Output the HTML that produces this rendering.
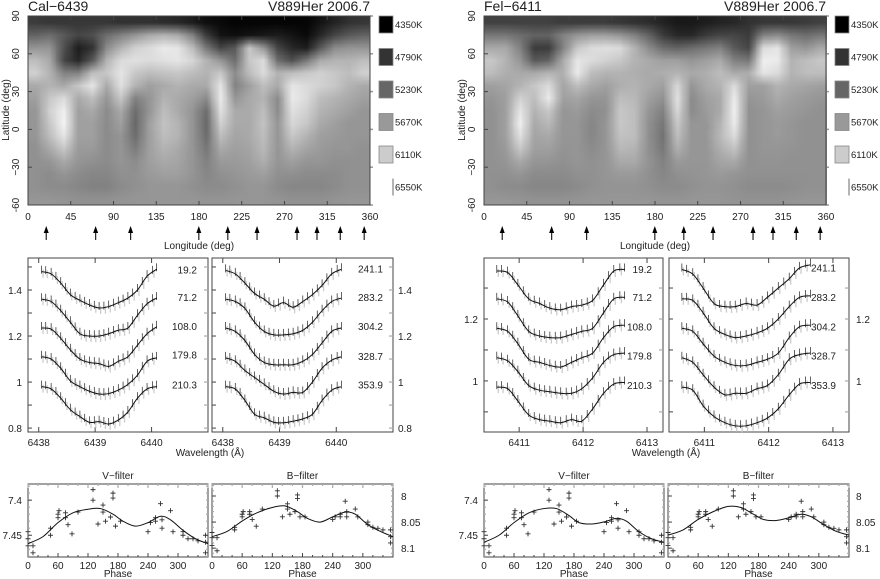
<!DOCTYPE html>
<html><head><meta charset="utf-8"><style>
html,body{margin:0;padding:0;background:#fff;width:880px;height:579px;overflow:hidden;position:relative}
canvas{position:absolute}
svg{position:absolute;left:0;top:0}
text{font-family:"Liberation Sans",sans-serif;fill:#222}
</style></head><body>
<canvas id="mapCa" width="342" height="189" style="left:28px;top:16px"></canvas>
<canvas id="mapFe" width="343" height="189" style="left:484px;top:16px"></canvas>
<svg id="fig" width="880" height="579"></svg>
<script>
const caMap=[
[60,55,55,55,55,55,50,50,50,45,40,30,15,10,5,5,5,5,5,5,20,35,50,55],
[100,110,90,70,80,110,130,150,170,180,170,130,60,20,15,20,25,30,20,10,40,70,90,100],
[150,150,80,30,50,140,180,210,220,235,230,190,120,70,90,200,150,70,40,30,90,140,150,150],
[190,170,70,40,90,180,220,225,220,225,230,215,180,150,110,200,220,110,80,120,170,180,180,190],
[210,180,130,130,190,200,230,200,190,195,200,190,180,200,140,190,220,180,190,200,210,200,190,210],
[170,180,170,200,230,170,225,180,160,170,180,170,170,230,130,160,190,170,230,220,210,200,180,170],
[160,200,220,170,190,150,200,130,150,180,170,160,140,235,150,170,180,140,235,220,190,180,170,160],
[150,210,240,160,170,140,170,110,150,190,170,150,110,225,170,170,190,140,225,210,180,170,160,150],
[150,200,245,160,160,140,160,105,160,195,180,150,105,210,170,170,195,150,215,200,170,160,150,150],
[150,190,230,160,160,140,150,110,160,190,180,150,110,190,165,170,190,150,200,180,160,155,150,150],
[145,170,200,155,155,140,150,125,160,180,170,150,120,170,160,165,185,150,180,165,155,150,150,145],
[145,150,170,150,145,140,150,140,160,170,165,150,130,155,155,160,175,150,160,150,150,145,145,145],
[145,140,150,140,135,135,145,145,155,160,160,150,135,145,150,155,160,145,145,140,140,140,145,145],
[145,140,140,135,130,130,140,145,150,150,150,145,140,140,145,150,150,140,135,135,135,140,145,145],
[150,150,148,145,145,145,148,150,150,150,150,150,148,148,150,150,150,148,145,145,145,148,150,150]];
const feMap=[
[65,65,65,65,65,60,60,60,60,55,50,45,35,25,25,30,35,40,50,55,55,55,60,65],
[120,120,110,100,100,130,150,160,160,150,130,100,60,40,40,60,70,70,60,130,140,120,110,120],
[170,170,130,60,60,130,200,220,225,220,180,140,110,100,110,120,130,90,70,220,230,160,150,170],
[200,180,150,90,100,170,230,220,210,200,180,170,160,160,150,160,170,130,120,240,235,180,190,200],
[190,175,170,170,180,175,235,190,180,180,175,170,175,180,170,175,190,170,175,230,220,180,190,190],
[160,165,180,200,220,165,190,170,160,175,180,170,160,215,150,170,180,220,160,160,180,170,165,160],
[150,160,210,190,235,160,165,150,150,190,185,160,145,225,140,160,170,235,150,155,170,160,155,150],
[145,160,230,180,200,150,155,140,145,200,190,150,130,215,140,155,170,240,145,150,160,155,150,145],
[145,160,240,170,185,150,150,135,150,200,190,145,120,200,150,150,180,235,145,150,155,150,145,145],
[145,160,225,165,170,150,150,135,150,195,190,145,115,190,150,150,185,220,145,150,155,150,145,145],
[145,155,200,160,160,148,150,140,150,185,180,145,120,175,150,150,175,195,145,150,150,148,145,145],
[145,150,170,150,150,145,150,145,150,170,170,148,130,155,150,150,165,170,145,148,148,145,145,145],
[145,145,150,140,140,140,145,145,150,155,155,145,135,145,148,150,155,150,145,145,145,145,145,145],
[145,140,140,135,135,135,140,145,148,148,148,145,140,140,145,148,148,145,140,140,140,142,145,145],
[150,150,148,146,146,146,148,150,150,150,150,150,148,148,150,150,150,148,146,146,146,148,150,150]];
const legendTemps=["4350K","4790K","5230K","5670K","6110K","6550K"];
const legendGreys=[0,51,102,153,204,255];
const arrowLon=[19.2,71.2,108.0,179.8,210.3,241.1,283.2,304.2,328.7,353.9];
const phasesA=["19.2","71.2","108.0","179.8","210.3"];
const phasesB=["241.1","283.2","304.2","328.7","353.9"];
const caWave=[6438.05,6438.22,6438.39,6438.56,6438.73,6438.90,6439.07,6439.24,6439.41,6439.58,6439.75,6439.92,6440.09];
const caProfA=[
[1.48,1.47,1.43,1.38,1.355,1.335,1.322,1.328,1.345,1.365,1.40,1.46,1.49],
[1.36,1.35,1.31,1.26,1.21,1.20,1.20,1.21,1.225,1.235,1.29,1.34,1.365],
[1.235,1.23,1.19,1.14,1.10,1.085,1.08,1.068,1.09,1.11,1.16,1.21,1.24],
[1.11,1.10,1.06,1.005,0.98,0.96,0.948,0.95,0.965,0.99,1.03,1.09,1.105],
[0.98,0.97,0.93,0.88,0.85,0.825,0.828,0.818,0.835,0.87,0.93,0.97,0.98]];
const caProfB=[
[1.485,1.47,1.43,1.385,1.36,1.33,1.345,1.325,1.35,1.38,1.42,1.47,1.49],
[1.36,1.35,1.32,1.26,1.22,1.205,1.205,1.21,1.225,1.26,1.31,1.35,1.365],
[1.235,1.22,1.18,1.12,1.085,1.075,1.075,1.075,1.09,1.12,1.17,1.22,1.235],
[1.105,1.09,1.05,1.02,0.99,0.96,0.948,0.955,0.955,1.0,1.06,1.095,1.11],
[0.98,0.97,0.92,0.86,0.845,0.825,0.823,0.83,0.84,0.86,0.92,0.965,0.98]];
const feWave=[6410.65,6410.82,6410.98,6411.15,6411.32,6411.48,6411.65,6411.82,6411.98,6412.15,6412.32,6412.48,6412.65];
const feProfA=[
[1.355,1.35,1.31,1.265,1.25,1.235,1.23,1.24,1.245,1.26,1.31,1.355,1.36],
[1.265,1.255,1.21,1.16,1.145,1.14,1.14,1.15,1.16,1.17,1.22,1.265,1.27],
[1.17,1.16,1.12,1.07,1.06,1.05,1.045,1.06,1.075,1.09,1.14,1.175,1.18],
[1.075,1.065,1.03,0.985,0.97,0.965,0.96,0.96,0.975,1.01,1.06,1.085,1.09],
[0.98,0.975,0.935,0.89,0.875,0.87,0.865,0.875,0.87,0.91,0.96,0.99,0.995]];
const feProfB=[
[1.36,1.345,1.3,1.25,1.24,1.24,1.25,1.245,1.27,1.30,1.33,1.365,1.375],
[1.265,1.26,1.22,1.17,1.15,1.14,1.145,1.155,1.17,1.20,1.24,1.27,1.275],
[1.17,1.16,1.12,1.08,1.06,1.05,1.05,1.06,1.07,1.09,1.14,1.175,1.18],
[1.075,1.06,1.02,0.98,0.955,0.96,0.96,0.975,0.985,1.02,1.07,1.085,1.09],
[0.98,0.97,0.92,0.885,0.865,0.855,0.855,0.865,0.88,0.91,0.955,0.99,0.995]];
const phV=[0,0,0,10,10,45,45,60,60,62,75,75,80,88,100,130,130,140,150,150,155,165,170,170,175,185,240,245,255,255,265,268,268,285,290,310,310,320,330,340,355,355,355];
const magV=[7.445,7.455,7.465,7.465,7.475,7.440,7.450,7.420,7.425,7.415,7.418,7.425,7.435,7.448,7.417,7.385,7.400,7.434,7.407,7.417,7.430,7.424,7.390,7.397,7.437,7.430,7.445,7.432,7.425,7.430,7.405,7.440,7.428,7.415,7.445,7.445,7.450,7.455,7.455,7.458,7.450,7.460,7.475];
const phB=phV;
const magB=[8.07,8.08,8.095,8.08,8.105,8.06,8.065,8.035,8.04,8.03,8.03,8.035,8.045,8.058,8.025,7.99,8.00,8.04,8.015,8.025,8.035,8.03,7.998,8.005,8.04,8.04,8.045,8.04,8.035,8.04,8.01,8.04,8.03,8.025,8.04,8.05,8.055,8.06,8.062,8.065,8.065,8.078,8.09];
const phModel=[0,30,60,90,120,145,170,190,215,240,265,285,310,335,360];
const vModelCa=[7.462,7.452,7.432,7.418,7.413,7.412,7.420,7.430,7.437,7.432,7.423,7.428,7.443,7.455,7.462];
const bModelCa=[8.078,8.068,8.048,8.032,8.022,8.019,8.03,8.043,8.05,8.04,8.031,8.035,8.055,8.068,8.078];
const vModelFe=[7.460,7.450,7.432,7.418,7.412,7.412,7.422,7.432,7.434,7.431,7.426,7.430,7.445,7.455,7.460];
const bModelFe=[8.075,8.065,8.045,8.03,8.02,8.022,8.035,8.045,8.047,8.042,8.035,8.04,8.055,8.068,8.075];

const NS="http://www.w3.org/2000/svg";
const fig=document.getElementById('fig');
function el(tag,attrs,parent){const e=document.createElementNS(NS,tag);for(const k in attrs)e.setAttribute(k,attrs[k]);(parent||fig).appendChild(e);return e;}
function txt(x,y,s,size,anchor,name,parent,rot){const t=el('text',{x:x,y:y,'font-size':size,'text-anchor':anchor||'middle'},parent);t.textContent=s;


if(rot)t.setAttribute('transform','rotate('+rot+' '+x+' '+y+')');return t;}
function lin(d0,d1,r0,r1){return v=>r0+(v-d0)*(r1-r0)/(d1-d0);}
function line(x1,y1,x2,y2,st,w,parent){return el('line',{x1:x1,y1:y1,x2:x2,y2:y2,stroke:st||'#222','stroke-width':w||0.8},parent);}
function frame(x0,y0,x1,y1,name){const r=el('rect',{x:x0,y:y0,width:x1-x0,height:y1-y0,fill:'none',stroke:'#444','stroke-width':1});

}
function smoothPath(pts){let d='M'+pts[0][0]+','+pts[0][1];for(let i=0;i<pts.length-1;i++){const p0=pts[Math.max(0,i-1)],p1=pts[i],p2=pts[i+1],p3=pts[Math.min(pts.length-1,i+2)];
d+=' C'+(p1[0]+(p2[0]-p0[0])/6)+','+(p1[1]+(p2[1]-p0[1])/6)+' '+(p2[0]-(p3[0]-p1[0])/6)+','+(p2[1]-(p3[1]-p1[1])/6)+' '+p2[0]+','+p2[1];}return d;}
function herm(a,i,t){const n=a.length,p1=a[i],p2=a[i+1],m1=(a[Math.min(n-1,i+1)]-a[Math.max(0,i-1)])/2,m2=(a[Math.min(n-1,i+2)]-a[i])/2;
const t2=t*t,t3=t2*t;return (2*t3-3*t2+1)*p1+(t3-2*t2+t)*m1+(-2*t3+3*t2)*p2+(t3-t2)*m2;}

function drawMap(id,data){
 const c=document.getElementById(id),ctx=c.getContext('2d');
 const off=document.createElement('canvas');off.width=data[0].length;off.height=data.length;
 const oc=off.getContext('2d'),img=oc.createImageData(off.width,off.height);
 data.forEach((row,r)=>row.forEach((v,k)=>{const i=(r*off.width+k)*4;img.data[i]=img.data[i+1]=img.data[i+2]=v;img.data[i+3]=255;}));
 oc.putImageData(img,0,0);ctx.imageSmoothingEnabled=true;ctx.drawImage(off,0,0,c.width,c.height);
}
drawMap('mapCa',caMap);drawMap('mapFe',feMap);

function side(dx,title,map){
 const g=el('g',{});
 
 
 txt(28+dx,11,title,14,'start','map-title',g).setAttribute('fill','#333');
 txt(370+dx,11,'V889Her 2006.7',14,'end','star-epoch-title',g);
 const x0=28+dx,x1=370+dx,y0=16,y1=205;
 frame(x0,y0,x1,y1,'map-frame');
 const xs=lin(0,360,x0,x1),ys=lin(90,-60,y0,y1);
 for(let l=0;l<=360;l+=45){line(xs(l),y1,xs(l),y1-4,'#444',1,g);line(xs(l),y0,xs(l),y0+4,'#444',1,g);txt(xs(l),220,String(l),10,'middle','longitude-tick-label',g);}
 for(let b=-60;b<=90;b+=30){line(x0,ys(b),x0+4,ys(b),'#444',1,g);line(x1,ys(b),x1+3,ys(b),'#999',1.5,g);txt(19+dx,ys(b),b===-60?'-60':b<0?'\u221230':String(b),10,'middle','latitude-tick-label',g,-90);}
 txt(9+dx,110,'Latitude (deg)',10,'middle','latitude-axis-title',g,-90);
 txt(199+dx,249,'Longitude (deg)',10,'middle','longitude-axis-title',g);
 arrowLon.forEach(l=>{const a=el('g',{},g);
  
  
  line(xs(l),230,xs(l),240,'#222',1.2,a);el('path',{d:'M'+(xs(l)-2.5)+',233 L'+xs(l)+',226 L'+(xs(l)+2.5)+',233 Z',fill:'#000'},a);});
 legendTemps.forEach((t,i)=>{const y=16+i*32.5;const gv=legendGreys[i];
  if(i<5){const r=el('rect',{x:379+dx,y:y,width:14,height:17,fill:'rgb('+gv+','+gv+','+gv+')',stroke:'#888','stroke-width':0.8},g);
   
   }
  else line(393+dx,y,393+dx,y+17,'#444',0.8,g);
  txt(395+dx,y+12,t,9.5,'start','legend-label',g);});
}
side(0,'Cal\u22126439',caMap);
side(456,'Fel\u22126411',feMap);

function profPanel(x0,x1,y0,y1,wr,yr,waves,profs,labels,labelX,xticks,yticks,ylabX,ylabAnchor){
 frame(x0,y0,x1,y1,'profile-panel-frame');
 const xs=lin(wr[0],wr[1],x0,x1),ys=lin(yr[0],yr[1],y1,y0);
 xticks.forEach(w=>{line(xs(w),y1,xs(w),y1-5,'#444',1);line(xs(w),y0,xs(w),y0+5,'#444',1);txt(xs(w),446,String(w),10,'middle','wavelength-tick-label');});
 yticks.forEach(v=>{line(x0,ys(v),x0+4,ys(v),'#444',1);line(x1,ys(v),x1-4,ys(v),'#aaa',1.2);
  if(ylabX!==null&&Math.round(v*10)%2===0)txt(ylabX,ys(v)+4,String(+v.toFixed(1)),10,ylabAnchor,'intensity-tick-label');});
 profs.forEach((p,k)=>{
  for(let i=0;i<p.length-1;i++)for(const t of [0,0.5]){const w=herm(waves,i,t),v=herm(p,i,t),x=xs(w),y=ys(v);
   line(x+1.5,y-2,x+1.5,y+6,'#ccc',1.3);line(x,y-6,x,y+2,'#222',0.7);}
  const x=xs(waves[waves.length-1]),y=ys(p[p.length-1]);line(x,y-6,x,y+2,'#222',0.7);
  const pth=el('path',{d:smoothPath(waves.map((w,i)=>[xs(w),ys(p[i])])),fill:'none',stroke:'#111','stroke-width':1});
  
  
  txt(labelX,ys(p[0])+2,labels[k],10,'end','rotation-phase-label');
 });
}
const yt1=[0.8,0.9,1.0,1.1,1.2,1.3,1.4,1.5];
profPanel(28,208,258,432,[6437.81,6441.0],[0.783,1.539],caWave,caProfA,phasesA,197,[6438,6439,6440],yt1,22,'end');
profPanel(212,393,258,432,[6437.81,6441.0],[0.783,1.539],caWave,caProfB,phasesB,383,[6438,6439,6440],yt1,null,'start');
yt1.forEach(v=>{if(Math.round(v*10)%2===0)txt(398,lin(0.783,1.539,432,258)(v)+4,String(+v.toFixed(1)),10,'start','intensity-tick-label-right');});
txt(210,456,'Wavelength (\u00C5)',10,'middle','wavelength-axis-title');
const yt2=[0.9,1.0,1.1,1.2,1.3];
profPanel(484,663,258,432,[6410.45,6413.25],[0.835,1.397],feWave,feProfA,phasesA,652,[6411,6412,6413],yt2,478,'end');
profPanel(669,849,258,432,[6410.45,6413.25],[0.835,1.397],feWave,feProfB,phasesB,836,[6411,6412,6413],yt2,null,'start');
yt2.forEach(v=>{if(Math.round(v*10)%2===0)txt(856,lin(0.835,1.397,432,258)(v)+4,String(+v.toFixed(1)),10,'start','intensity-tick-label-right');});
txt(666,456,'Wavelength (\u00C5)',10,'middle','wavelength-axis-title');

function photPanel(x0,x1,y0,y1,title,yr,ph,mag,model,yticks,labX,labAnchor){
 frame(x0,y0,x1,y1,'photometry-panel-frame');
 const xs=lin(0,360,x0,x1),ys=lin(yr[0],yr[1],y0,y1);
 txt((x0+x1)/2,479,title,10,'middle','filter-title');
 for(let p=0;p<=360;p+=20){const L=p%60===0?4:2;line(xs(p),y1,xs(p),y1-L,'#444',1);line(xs(p),y0,xs(p),y0+L,'#aaa',1.2);
  if(p%60===0&&p<360)txt(xs(p),569,String(p),10,'middle','phase-tick-label');}
 for(let v=Math.ceil(yr[0]*100);v<=yr[1]*100;v++){line(x0,ys(v/100),x0+2,ys(v/100),'#aaa',1.2);line(x1,ys(v/100),x1-2,ys(v/100),'#aaa',1.2);}
 yticks.forEach(v=>{line(x0,ys(v),x0+4,ys(v),'#444',1);if(labX!==null)txt(labX,ys(v)+4,String(v),10,labAnchor,'magnitude-tick-label');});
 txt((x0+x1)/2,577,'Phase',10,'middle','phase-axis-title');
 ph.forEach((p,i)=>{const x=xs(p),y=ys(mag[i]);const m=el('path',{d:'M'+(x-2.5)+','+y+'h5M'+x+','+(y-2.5)+'v5',stroke:'#333','stroke-width':0.9,fill:'none'});
  
  });
 const c=el('path',{d:smoothPath(phModel.map((p,i)=>[xs(p),ys(model[i])])),fill:'none',stroke:'#111','stroke-width':1});
 
 
}
photPanel(28,208,484,557,'V\u2212filter',[7.377,7.481],phV,magV,vModelCa,[7.4,7.45],22,'end');
photPanel(212,393,484,557,'B\u2212filter',[7.977,8.117],phB,magB,bModelCa,[8,8.05,8.1],401,'start');
photPanel(484,664,484,557,'V\u2212filter',[7.377,7.481],phV,magV,vModelFe,[7.4,7.45],478,'end');
photPanel(668,849,484,557,'B\u2212filter',[7.977,8.117],phB,magB,bModelFe,[8,8.05,8.1],856,'start');
</script>
</body></html>
